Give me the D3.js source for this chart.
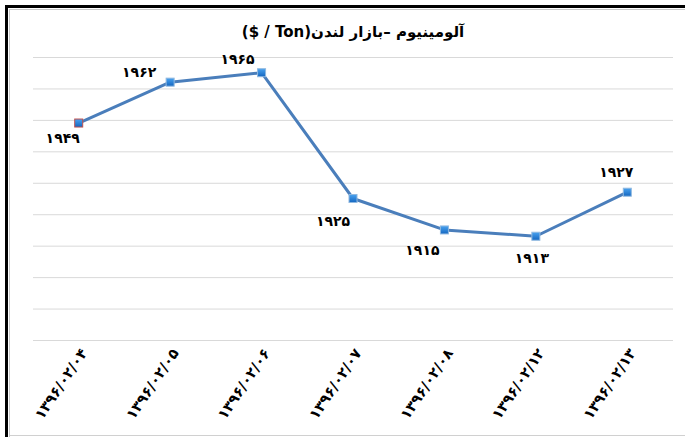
<!DOCTYPE html>
<html>
<head>
<meta charset="utf-8">
<script src="https://cdn.jsdelivr.net/npm/d3@7"></script>
<style>
  body { margin: 0; background: #fff; }
  svg { display: block; font-family: "DejaVu Sans", sans-serif; }
</style>
</head>
<body>
<div id="chart"></div>
<script>
// data
const dates = ['۱۳۹۶/۰۲/۰۴', '۱۳۹۶/۰۲/۰۵', '۱۳۹۶/۰۲/۰۶', '۱۳۹۶/۰۲/۰۷', '۱۳۹۶/۰۲/۰۸', '۱۳۹۶/۰۲/۱۲', '۱۳۹۶/۰۲/۱۳'];
const prices = [1949, 1962, 1965, 1925, 1915, 1913, 1927];
const yTicks = [1880, 1890, 1900, 1910, 1920, 1930, 1940, 1950, 1960, 1970];
const title = 'آلومینیوم –بازار لندن(Ton / $)';

// persian digits for the value labels
const faDigits = '۰۱۲۳۴۵۶۷۸۹';
const toFa = n => String(n).replace(/\d/g, c => faDigits[+c]);

// where each value label sits, relative to its point (hand placed like in the original)
const labelOffset = [[-16, 15], [-31, -10], [-24, -14], [-20, 23], [-22, 20], [-4, 22], [-11, -20]];

renderChart();

function renderChart() {
    const W = 685, H = 437;
    const plot = {left: 33, right: 673, top: 57, bottom: 340};

    const svg = d3.select('#chart').append('svg')
        .attr('width', W)
        .attr('height', H);

    // frame
    svg.append('rect').attr('x', 0).attr('y', 0).attr('width', W).attr('height', H).attr('fill', '#fff');
    svg.append('line').attr('x1', 9).attr('x2', W).attr('y1', 435.5).attr('y2', 435.5)
        .attr('stroke', '#d0d0d0').attr('stroke-width', 1);
    svg.append('line').attr('x1', 9.5).attr('x2', 9.5).attr('y1', 9).attr('y2', H)
        .attr('stroke', '#c8c8c8').attr('stroke-width', 1);
    svg.append('line').attr('x1', 9).attr('x2', W).attr('y1', 9.5).attr('y2', 9.5)
        .attr('stroke', '#c8c8c8').attr('stroke-width', 1);
    svg.append('path')
        .attr('d', `M6.5,${H} V6.5 H${W}`)
        .attr('fill', 'none').attr('stroke', '#000').attr('stroke-width', 3);

    const x = d3.scaleBand().domain(dates).range([plot.left, plot.right]).padding(0);
    const y = d3.scaleLinear().domain([1880, 1970]).range([plot.bottom, plot.top]);

    // gridlines
    svg.append('g')
        .attr('transform', `translate(${plot.left},0)`)
        .call(d3.axisLeft(y).tickValues(yTicks).tickSize(-(plot.right - plot.left)).tickFormat(''))
        .call(g => g.select('.domain').remove())
        .call(g => g.selectAll('.tick line').attr('stroke', '#d9d9d9').attr('stroke-width', 1));

    // x axis labels
    const xAxis = svg.append('g')
        .attr('transform', `translate(0,${plot.bottom})`)
        .call(d3.axisBottom(x).tickSize(0).tickSizeOuter(0));
    xAxis.select('.domain').remove();
    xAxis.selectAll('.tick text')
        .attr('font-family', '"DejaVu Sans", sans-serif')
        .attr('font-size', 14.5)
        .attr('font-weight', 'bold')
        .attr('fill', '#000')
        .attr('text-anchor', 'end')
        .attr('x', 0).attr('y', 0).attr('dy', '0.35em')
        .attr('transform', 'translate(5,10) rotate(-56)');

    const cx = d => x(d) + x.bandwidth() / 2;

    // line
    svg.append('path')
        .datum(prices)
        .attr('fill', 'none')
        .attr('stroke', '#4a7ebb')
        .attr('stroke-width', 3)
        .attr('stroke-linejoin', 'round')
        .attr('d', d3.line().x((d, i) => cx(dates[i])).y(d => y(d)));

    // markers
    const grad = svg.append('defs').append('linearGradient')
        .attr('id', 'mk').attr('x1', 0).attr('y1', 0).attr('x2', 0).attr('y2', 1);
    grad.append('stop').attr('offset', 0).attr('stop-color', '#4aa3f0');
    grad.append('stop').attr('offset', 1).attr('stop-color', '#1466c0');

    svg.selectAll('.marker')
        .data(prices)
        .enter().append('rect')
        .attr('class', 'marker')
        .attr('x', (d, i) => cx(dates[i]) - 4)
        .attr('y', d => y(d) - 4)
        .attr('width', 8)
        .attr('height', 8)
        .attr('fill', 'url(#mk)')
        .attr('stroke', (d, i) => i === 0 ? '#c0504d' : '#8fb8e0')
        .attr('stroke-width', 1);

    // value labels
    svg.selectAll('.vlabel')
        .data(prices)
        .enter().append('text')
        .attr('class', 'vlabel')
        .attr('x', (d, i) => cx(dates[i]) + labelOffset[i][0])
        .attr('y', (d, i) => y(d) + labelOffset[i][1])
        .attr('dy', '0.35em')
        .attr('text-anchor', 'middle')
        .attr('font-size', 14)
        .attr('font-weight', 'bold')
        .attr('fill', '#000')
        .text(d => toFa(d));

    // title
    svg.append('text')
        .attr('x', (plot.left + plot.right) / 2)
        .attr('y', 32)
        .attr('dy', '0.35em')
        .attr('text-anchor', 'middle')
        .attr('direction', 'rtl')
        .attr('font-size', 15)
        .attr('font-weight', 'bold')
        .attr('fill', '#000')
        .text(title);
}
</script>
</body>
</html>
